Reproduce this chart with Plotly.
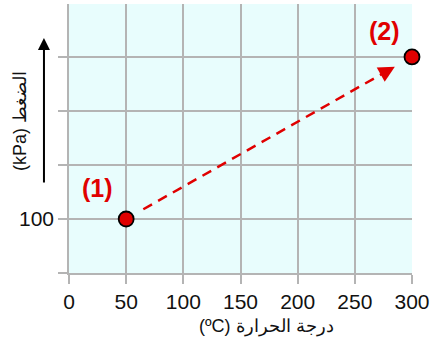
import plotly.graph_objects as go

# Data
temps_c = [50, 300]          # x values (ºC)
pressures = [100, 175]       # y values (kPa)
point_labels = ["(1)", "(2)"]
x_ticks = [0, 50, 100, 150, 200, 250, 300]
y_ticks = [75, 100, 125, 150, 175]
y_ticktext = ["", "100", "", "", ""]

RED = "#e00000"
GRID = "#b4b4b4"
FONT = "Liberation Sans, Arial, sans-serif"

fig = go.Figure()

# dashed connecting line (between the two states, slightly shortened)
t0, t1 = 0.06, 0.90
x0 = temps_c[0] + t0 * (temps_c[1] - temps_c[0])
y0 = pressures[0] + t0 * (pressures[1] - pressures[0])
x1 = temps_c[0] + t1 * (temps_c[1] - temps_c[0])
y1 = pressures[0] + t1 * (pressures[1] - pressures[0])
fig.add_trace(go.Scatter(x=[x0, x1], y=[y0, y1], mode="lines",
                         line=dict(color=RED, width=2.5, dash="10px,7px"),
                         hoverinfo="skip", showlegend=False, cliponaxis=False))
# arrowhead
t2 = 0.94
x2 = temps_c[0] + t2 * (temps_c[1] - temps_c[0])
y2 = pressures[0] + t2 * (pressures[1] - pressures[0])
fig.add_annotation(x=x2, y=y2, ax=x1, ay=y1, xref="x", yref="y", axref="x", ayref="y",
                   text="", showarrow=True, arrowhead=2, arrowsize=1.3, arrowwidth=2.5,
                   arrowcolor=RED, standoff=0, startstandoff=0)

fig.add_trace(go.Scatter(x=temps_c, y=pressures, mode="markers",
                         marker=dict(size=15, color=RED, line=dict(color="black", width=1.8)),
                         showlegend=False, cliponaxis=False))

# point labels
fig.add_annotation(x=temps_c[0], y=pressures[0], text="<b>" + point_labels[0] + "</b>",
                   showarrow=False, xshift=-29, yshift=31,
                   font=dict(size=25, color=RED, family=FONT))
fig.add_annotation(x=temps_c[1], y=pressures[1], text="<b>" + point_labels[1] + "</b>",
                   showarrow=False, xshift=-28, yshift=26,
                   font=dict(size=25, color=RED, family=FONT))

# y-axis title (rotated) and black arrow
fig.add_annotation(xref="paper", yref="paper", x=-0.143, y=0.565,
                   text="(kPa) الضغط", textangle=-90, showarrow=False,
                   xanchor="center", yanchor="middle",
                   font=dict(size=18, color="#111111", family=FONT))
fig.add_annotation(xref="paper", yref="paper", x=-0.073, y=0.874,
                   ax=0, ay=146, axref="pixel", ayref="pixel",
                   text="", showarrow=True, arrowhead=2, arrowsize=1.2, arrowwidth=2,
                   arrowcolor="black", standoff=0, startstandoff=0)

# x-axis title
fig.add_annotation(xref="paper", yref="paper", x=0.575, y=-0.2,
                   text="(ºC) درجة الحرارة", showarrow=False,
                   xanchor="center", yanchor="middle",
                   font=dict(size=18, color="#111111", family=FONT))

fig.update_layout(
    width=436, height=345,
    margin=dict(l=69, r=24, t=4, b=72),
    paper_bgcolor="white",
    plot_bgcolor="#e8fdfd",
    font=dict(family=FONT, size=21, color="#111111"),
    showlegend=False,
)
fig.update_xaxes(range=[0, 300], tickvals=x_ticks, showgrid=True, gridcolor=GRID, gridwidth=1.5,
                 zeroline=False, showline=True, linecolor=GRID, linewidth=1.5,
                 ticks="outside", ticklen=9, tickcolor=GRID, tickwidth=1.5,
                 tickfont=dict(size=21), fixedrange=True, automargin=False)
fig.update_yaxes(range=[75, 199.5], tickvals=y_ticks, ticktext=y_ticktext,
                 showgrid=True, gridcolor=GRID, gridwidth=1.5,
                 zeroline=False, showline=True, linecolor=GRID, linewidth=1.5,
                 ticks="outside", ticklen=9, tickcolor=GRID, tickwidth=1.5,
                 tickfont=dict(size=21), fixedrange=True, automargin=False)

fig.write_html("out.html", config={"displayModeBar": False},
               post_script="document.body.style.margin='0';")
